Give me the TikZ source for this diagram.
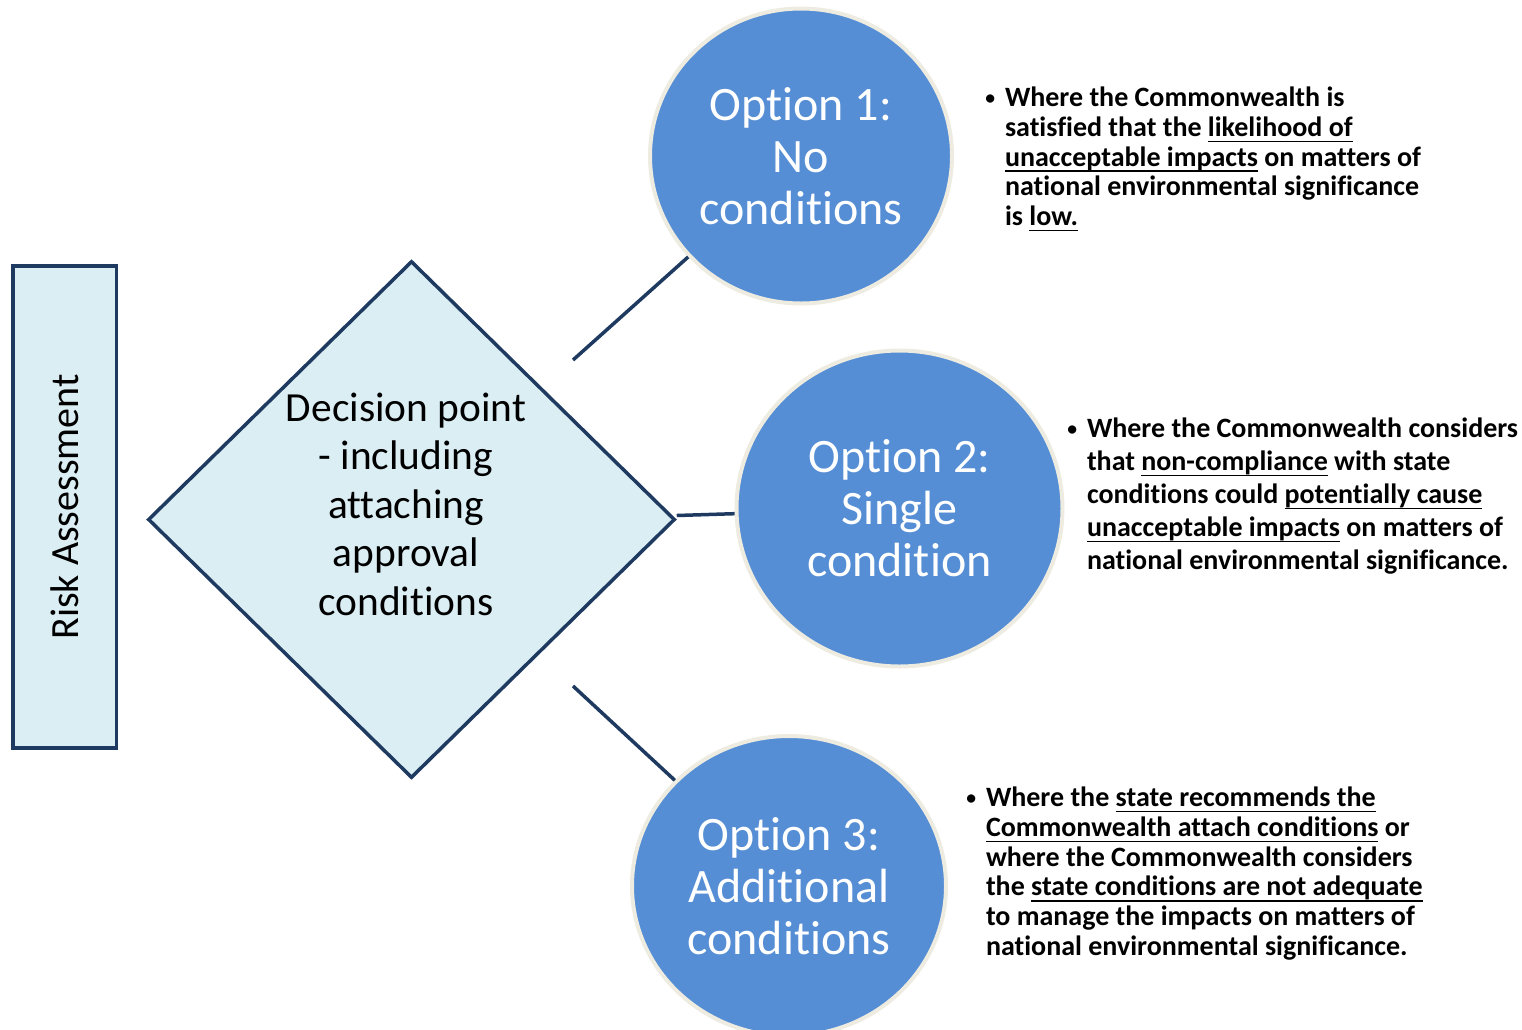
\documentclass[tikz,border=0pt]{standalone}
\usepackage{fontspec}
\setmainfont{Carlito}[Ligatures={NoCommon}]
\usetikzlibrary{shapes.geometric}
\definecolor{navy}{HTML}{1F3A60}
\definecolor{paleblue}{HTML}{DBEEF4}
\definecolor{optblue}{HTML}{558ED5}
\definecolor{cream}{HTML}{EEECE1}
\newcommand{\bul}{\makebox[9.8pt][l]{\raisebox{0.8pt}{\scalebox{0.7}{\textbullet}}}}
\newcommand{\ind}{\hspace*{9.8pt}}
\newsavebox{\undlbox}
\newcommand{\undl}[1]{\sbox{\undlbox}{#1}\rlap{\rule[-2.8pt]{\wd\undlbox}{0.7pt}}\usebox{\undlbox}}

\begin{document}
\begin{tikzpicture}[x=0.5pt,y=-0.5pt,
    option/.style={ellipse,draw=cream,line width=2pt,fill=optblue,text=white,
        align=center,inner sep=0pt,font=\fontsize{24}{26}\selectfont},
    link/.style={draw=navy,line width=1.75pt},
    note/.style={anchor=north west,align=left,inner sep=0pt,
        font=\bfseries\fontsize{14}{14.9}\selectfont}]
    \useasboundingbox (0,0) rectangle (1522,1029);

    % risk box and decision point
    \node[rotate=90,draw=navy,line width=1.75pt,fill=paleblue,minimum width=241pt,
        minimum height=51.75pt,font=\fontsize{20}{24}\selectfont] (risk) at (64.5,507) {Risk Assessment};
    \node[diamond,draw=navy,line width=1.75pt,fill=paleblue,inner sep=0pt,
        minimum width=263.5pt,minimum height=258.5pt] (dp) at (411.5,519.5) {};
    \node[align=center,font=\fontsize{20.7}{24.25}\selectfont] (dptext) at (406,504)
        {Decision point\\- including\\attaching\\approval\\conditions};

    % the three options
    \node[option,minimum width=151pt,minimum height=147.5pt] (op1) at (801,156) {Option 1:\\No\\conditions};
    \node[option,minimum width=163pt,minimum height=158pt] (op2) at (899.5,508.5) {Option 2:\\Single\\condition};
    \node[option,minimum width=157pt,minimum height=150pt] (op3) at (789,886) {Option 3:\\Additional\\conditions};

    \coordinate (k1) at (573,360);
    \coordinate (k3) at (573,686);
    \draw[link] (k1) -- (op1);
    \draw[link] ([yshift=2pt]dp.east) -- (op2);
    \draw[link] (k3) -- (op3);

    % notes
    \node[note] (n1) at (985,86.5) {\bul Where the Commonwealth is\\
        \ind satisfied that the \undl{likelihood of}\\
        \ind\undl{unacceptable impacts} on matters of\\
        \ind national environmental significance\\
        \ind is \undl{low.}};
    \node[note,font=\bfseries\fontsize{14}{16.5}\selectfont] (n2) at (1067,417.5) {\bul Where the Commonwealth considers\\
        \ind that \undl{non-compliance} with state\\
        \ind conditions could \undl{potentially cause}\\
        \ind\undl{unacceptable impacts} on matters of\\
        \ind national environmental significance.};
    \node[note] (n3) at (966,786.5) {\bul Where the \undl{state recommends the}\\
        \ind\undl{Commonwealth attach conditions} or\\
        \ind where the Commonwealth considers\\
        \ind the \undl{state conditions are not adequate}\\
        \ind to manage the impacts on matters of\\
        \ind national environmental significance.};

\end{tikzpicture}
\end{document}
